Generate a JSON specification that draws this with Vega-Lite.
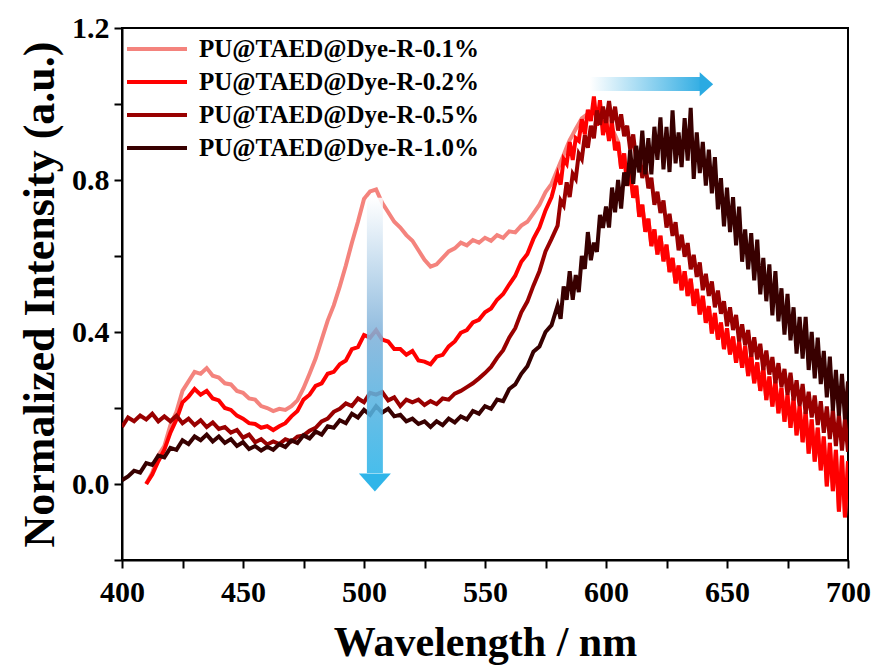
{
  "$schema": "https://vega.github.io/schema/vega-lite/v6.json",
  "autosize": "none",
  "width": 726,
  "height": 532,
  "padding": {"left": 122, "top": 28, "right": 30, "bottom": 110},
  "background": "white",
  "config": {"view": {"stroke": "black", "strokeWidth": 2}, "font": "Liberation Serif"},
  "layer": [
    {
      "data": {"values": [
        {"w":400,"a":null,"b":null,"c":0.15,"d":0.01},
        {"w":402.5,"a":null,"b":null,"c":0.175,"d":0.02},
        {"w":405,"a":null,"b":null,"c":0.165,"d":0.035},
        {"w":407.5,"a":null,"b":null,"c":0.18,"d":0.03},
        {"w":410,"a":0.0,"b":0.0,"c":0.17,"d":0.055},
        {"w":412.5,"a":0.03,"b":0.025,"c":0.185,"d":0.05},
        {"w":415,"a":0.075,"b":0.06,"c":0.165,"d":0.075},
        {"w":417.5,"a":0.1,"b":0.09,"c":0.178,"d":0.07},
        {"w":420,"a":0.155,"b":0.135,"c":0.165,"d":0.095},
        {"w":422.5,"a":0.19,"b":0.17,"c":0.18,"d":0.09},
        {"w":425,"a":0.245,"b":0.215,"c":0.16,"d":0.115},
        {"w":427.5,"a":0.27,"b":0.23,"c":0.172,"d":0.105},
        {"w":430,"a":0.295,"b":0.25,"c":0.155,"d":0.125},
        {"w":432.5,"a":0.29,"b":0.235,"c":0.168,"d":0.115},
        {"w":435,"a":0.305,"b":0.245,"c":0.15,"d":0.13},
        {"w":437.5,"a":0.285,"b":0.225,"c":0.162,"d":0.112},
        {"w":440,"a":0.28,"b":0.22,"c":0.145,"d":0.125},
        {"w":442.5,"a":0.265,"b":0.2,"c":0.15,"d":0.108},
        {"w":445,"a":0.262,"b":0.195,"c":0.135,"d":0.118},
        {"w":447.5,"a":0.245,"b":0.18,"c":0.142,"d":0.1},
        {"w":450,"a":0.24,"b":0.172,"c":0.122,"d":0.11},
        {"w":452.5,"a":0.225,"b":0.16,"c":0.13,"d":0.092},
        {"w":455,"a":0.222,"b":0.158,"c":0.11,"d":0.1},
        {"w":457.5,"a":0.205,"b":0.148,"c":0.118,"d":0.088},
        {"w":460,"a":0.2,"b":0.152,"c":0.104,"d":0.098},
        {"w":462.5,"a":0.192,"b":0.142,"c":0.112,"d":0.09},
        {"w":465,"a":0.198,"b":0.152,"c":0.105,"d":0.105},
        {"w":467.5,"a":0.195,"b":0.16,"c":0.118,"d":0.097},
        {"w":470,"a":0.205,"b":0.178,"c":0.112,"d":0.115},
        {"w":472.5,"a":0.22,"b":0.192,"c":0.125,"d":0.108},
        {"w":475,"a":0.252,"b":0.222,"c":0.128,"d":0.128},
        {"w":477.5,"a":0.29,"b":0.235,"c":0.14,"d":0.12},
        {"w":480,"a":0.33,"b":0.258,"c":0.148,"d":0.138},
        {"w":482.5,"a":0.38,"b":0.265,"c":0.165,"d":0.13},
        {"w":485,"a":0.43,"b":0.29,"c":0.172,"d":0.152},
        {"w":487.5,"a":0.47,"b":0.295,"c":0.19,"d":0.148},
        {"w":490,"a":0.52,"b":0.315,"c":0.198,"d":0.168},
        {"w":492.5,"a":0.575,"b":0.325,"c":0.212,"d":0.16},
        {"w":495,"a":0.635,"b":0.355,"c":0.205,"d":0.185},
        {"w":497.5,"a":0.69,"b":0.36,"c":0.225,"d":0.175},
        {"w":500,"a":0.75,"b":0.392,"c":0.215,"d":0.195},
        {"w":502.5,"a":0.77,"b":0.385,"c":0.24,"d":0.182},
        {"w":505,"a":0.775,"b":0.405,"c":0.235,"d":0.205},
        {"w":507.5,"a":0.74,"b":0.38,"c":0.242,"d":0.188},
        {"w":510,"a":0.715,"b":0.375,"c":0.22,"d":0.198},
        {"w":512.5,"a":0.69,"b":0.355,"c":0.228,"d":0.178},
        {"w":515,"a":0.675,"b":0.355,"c":0.205,"d":0.182},
        {"w":517.5,"a":0.655,"b":0.34,"c":0.222,"d":0.165},
        {"w":520,"a":0.64,"b":0.35,"c":0.215,"d":0.172},
        {"w":522.5,"a":0.615,"b":0.325,"c":0.222,"d":0.158},
        {"w":525,"a":0.59,"b":0.322,"c":0.208,"d":0.165},
        {"w":527.5,"a":0.572,"b":0.315,"c":0.218,"d":0.15},
        {"w":530,"a":0.578,"b":0.335,"c":0.21,"d":0.165},
        {"w":532.5,"a":0.595,"b":0.34,"c":0.225,"d":0.155},
        {"w":535,"a":0.612,"b":0.362,"c":0.222,"d":0.172},
        {"w":537.5,"a":0.62,"b":0.375,"c":0.238,"d":0.162},
        {"w":540,"a":0.635,"b":0.398,"c":0.245,"d":0.178},
        {"w":542.5,"a":0.628,"b":0.405,"c":0.255,"d":0.17},
        {"w":545,"a":0.642,"b":0.425,"c":0.265,"d":0.192},
        {"w":547.5,"a":0.635,"b":0.432,"c":0.278,"d":0.185},
        {"w":550,"a":0.648,"b":0.452,"c":0.292,"d":0.205},
        {"w":552.5,"a":0.64,"b":0.462,"c":0.308,"d":0.198},
        {"w":555,"a":0.655,"b":0.485,"c":0.332,"d":0.222},
        {"w":557.5,"a":0.648,"b":0.5,"c":0.352,"d":0.218},
        {"w":560,"a":0.665,"b":0.525,"c":0.385,"d":0.25},
        {"w":562.5,"a":0.662,"b":0.548,"c":0.41,"d":0.262},
        {"w":565,"a":0.68,"b":0.585,"c":0.452,"d":0.29},
        {"w":567.5,"a":0.69,"b":0.605,"c":0.48,"d":0.31},
        {"w":570,"a":0.712,"b":0.645,"c":0.522,"d":0.348},
        {"w":572.5,"a":0.735,"b":0.675,"c":0.56,"d":0.362},
        {"w":575,"a":0.768,"b":0.72,"c":0.612,"d":0.4},
        {"w":577.5,"a":0.79,"b":0.755,"c":0.645,"d":0.418},
        {"w":580,"a":0.828,"b":0.815,"c":0.68,"d":0.47},
        {"w":581.25,"a":0.847,"b":0.788,"c":0.746,"d":0.435},
        {"w":582.5,"a":0.866,"b":0.855,"c":0.733,"d":0.52},
        {"w":583.75,"a":0.886,"b":0.843,"c":0.794,"d":0.485},
        {"w":585,"a":0.905,"b":0.9,"c":0.755,"d":0.56},
        {"w":586.25,"a":0.919,"b":0.853,"c":0.816,"d":0.485},
        {"w":587.5,"a":0.934,"b":0.91,"c":0.803,"d":0.55},
        {"w":588.75,"a":0.948,"b":0.903,"c":0.869,"d":0.505},
        {"w":590,"a":0.962,"b":0.96,"c":0.855,"d":0.6},
        {"w":591.25,"a":0.968,"b":0.92,"c":0.918,"d":0.566},
        {"w":592.5,"a":0.974,"b":0.985,"c":0.885,"d":0.663},
        {"w":593.75,"a":0.979,"b":0.955,"c":0.943,"d":0.589},
        {"w":595,"a":0.985,"b":1.02,"c":0.91,"d":0.635},
        {"w":596.25,"a":0.98,"b":0.943,"c":0.983,"d":0.611},
        {"w":597.5,"a":0.975,"b":1.01,"c":0.945,"d":0.708},
        {"w":598.75,"a":0.97,"b":0.918,"c":0.993,"d":0.674},
        {"w":600,"a":0.965,"b":0.96,"c":0.95,"d":0.73},
        {"w":601.25,"a":0.95,"b":0.903,"c":1.008,"d":0.675},
        {"w":602.5,"a":0.935,"b":0.95,"c":0.95,"d":0.78},
        {"w":603.75,"a":0.918,"b":0.878,"c":0.993,"d":0.715},
        {"w":605,"a":0.9,"b":0.9,"c":0.93,"d":0.8},
        {"w":606.25,"a":0.83,"b":0.83,"c":0.973,"d":0.725},
        {"w":607.5,"a":0.87,"b":0.87,"c":0.915,"d":0.82},
        {"w":608.75,"a":0.785,"b":0.785,"c":0.943,"d":0.785},
        {"w":610,"a":0.82,"b":0.82,"c":0.88,"d":0.88},
        {"w":611.25,"a":0.753,"b":0.753,"c":0.92,"d":0.79},
        {"w":612.5,"a":0.785,"b":0.785,"c":0.85,"d":0.89},
        {"w":613.75,"a":0.703,"b":0.703,"c":0.875,"d":0.82},
        {"w":615,"a":0.735,"b":0.735,"c":0.805,"d":0.93},
        {"w":616.25,"a":0.664,"b":0.664,"c":0.844,"d":0.815},
        {"w":617.5,"a":0.698,"b":0.698,"c":0.778,"d":0.91},
        {"w":618.75,"a":0.626,"b":0.626,"c":0.806,"d":0.815},
        {"w":620,"a":0.67,"b":0.67,"c":0.735,"d":0.94},
        {"w":621.25,"a":0.604,"b":0.604,"c":0.769,"d":0.853},
        {"w":622.5,"a":0.653,"b":0.653,"c":0.713,"d":0.965},
        {"w":623.75,"a":0.586,"b":0.586,"c":0.746,"d":0.828},
        {"w":625,"a":0.63,"b":0.63,"c":0.675,"d":0.94},
        {"w":626.25,"a":0.558,"b":0.558,"c":0.711,"d":0.821},
        {"w":627.5,"a":0.595,"b":0.595,"c":0.653,"d":0.983},
        {"w":628.75,"a":0.528,"b":0.528,"c":0.689,"d":0.844},
        {"w":630,"a":0.575,"b":0.575,"c":0.615,"d":0.925},
        {"w":631.25,"a":0.51,"b":0.51,"c":0.656,"d":0.834},
        {"w":632.5,"a":0.56,"b":0.56,"c":0.598,"d":0.963},
        {"w":633.75,"a":0.495,"b":0.495,"c":0.634,"d":0.851},
        {"w":635,"a":0.54,"b":0.54,"c":0.565,"d":0.99},
        {"w":636.25,"a":0.469,"b":0.469,"c":0.603,"d":0.803},
        {"w":637.5,"a":0.513,"b":0.513,"c":0.545,"d":0.925},
        {"w":638.75,"a":0.446,"b":0.446,"c":0.583,"d":0.818},
        {"w":640,"a":0.495,"b":0.495,"c":0.51,"d":0.9},
        {"w":641.25,"a":0.424,"b":0.424,"c":0.553,"d":0.785},
        {"w":642.5,"a":0.468,"b":0.468,"c":0.495,"d":0.88},
        {"w":643.75,"a":0.396,"b":0.396,"c":0.533,"d":0.765},
        {"w":645,"a":0.45,"b":0.45,"c":0.465,"d":0.86},
        {"w":646.25,"a":0.38,"b":0.38,"c":0.509,"d":0.723},
        {"w":647.5,"a":0.425,"b":0.425,"c":0.448,"d":0.805},
        {"w":648.75,"a":0.355,"b":0.355,"c":0.481,"d":0.678},
        {"w":650,"a":0.41,"b":0.41,"c":0.415,"d":0.78},
        {"w":651.25,"a":0.341,"b":0.341,"c":0.465,"d":0.663},
        {"w":652.5,"a":0.388,"b":0.388,"c":0.405,"d":0.755},
        {"w":653.75,"a":0.319,"b":0.319,"c":0.445,"d":0.628},
        {"w":655,"a":0.375,"b":0.375,"c":0.375,"d":0.73},
        {"w":656.25,"a":0.306,"b":0.306,"c":0.42,"d":0.585},
        {"w":657.5,"a":0.363,"b":0.363,"c":0.365,"d":0.67},
        {"w":658.75,"a":0.284,"b":0.284,"c":0.405,"d":0.565},
        {"w":660,"a":0.34,"b":0.34,"c":0.335,"d":0.66},
        {"w":661.25,"a":0.265,"b":0.265,"c":0.386,"d":0.536},
        {"w":662.5,"a":0.32,"b":0.32,"c":0.328,"d":0.643},
        {"w":663.75,"a":0.245,"b":0.245,"c":0.369,"d":0.499},
        {"w":665,"a":0.305,"b":0.305,"c":0.3,"d":0.595},
        {"w":666.25,"a":0.221,"b":0.221,"c":0.351,"d":0.481},
        {"w":667.5,"a":0.283,"b":0.283,"c":0.288,"d":0.578},
        {"w":668.75,"a":0.204,"b":0.204,"c":0.334,"d":0.444},
        {"w":670,"a":0.27,"b":0.27,"c":0.265,"d":0.56},
        {"w":671.25,"a":0.186,"b":0.186,"c":0.318,"d":0.428},
        {"w":672.5,"a":0.253,"b":0.253,"c":0.255,"d":0.515},
        {"w":673.75,"a":0.164,"b":0.164,"c":0.303,"d":0.393},
        {"w":675,"a":0.235,"b":0.235,"c":0.235,"d":0.5},
        {"w":676.25,"a":0.148,"b":0.148,"c":0.293,"d":0.378},
        {"w":677.5,"a":0.225,"b":0.225,"c":0.22,"d":0.465},
        {"w":678.75,"a":0.128,"b":0.128,"c":0.273,"d":0.343},
        {"w":680,"a":0.205,"b":0.205,"c":0.205,"d":0.44},
        {"w":681.25,"a":0.11,"b":0.11,"c":0.263,"d":0.33},
        {"w":682.5,"a":0.19,"b":0.19,"c":0.185,"d":0.44},
        {"w":683.75,"a":0.08,"b":0.08,"c":0.243,"d":0.3},
        {"w":685,"a":0.17,"b":0.17,"c":0.175,"d":0.4},
        {"w":686.25,"a":0.059,"b":0.059,"c":0.233,"d":0.278},
        {"w":687.5,"a":0.148,"b":0.148,"c":0.155,"d":0.385},
        {"w":688.75,"a":0.036,"b":0.036,"c":0.218,"d":0.263},
        {"w":690,"a":0.125,"b":0.125,"c":0.135,"d":0.35},
        {"w":691.25,"a":-0.006,"b":-0.006,"c":0.204,"d":0.228},
        {"w":692.5,"a":0.108,"b":0.108,"c":0.118,"d":0.335},
        {"w":693.75,"a":-0.019,"b":-0.019,"c":0.196,"d":0.193},
        {"w":695,"a":0.09,"b":0.09,"c":0.1,"d":0.3},
        {"w":696.25,"a":-0.073,"b":-0.073,"c":0.184,"d":0.18},
        {"w":697.5,"a":0.075,"b":0.075,"c":0.088,"d":0.29},
        {"w":698.75,"a":-0.088,"b":-0.088,"c":0.171,"d":0.17},
        {"w":700,"a":0.06,"b":0.06,"c":0.085,"d":0.27}
      ]},
      "transform": [{"fold": ["a", "b", "c", "d"], "as": ["s", "v"]}],
      "mark": {"type": "line", "strokeWidth": 4, "clip": true},
      "encoding": {
        "x": {
          "field": "w", "type": "quantitative",
          "scale": {"domain": [400, 700], "nice": false, "zero": false},
          "axis": {
            "values": [400,425,450,475,500,525,550,575,600,625,650,675,700],
            "labelExpr": "datum.value % 50 == 0 ? datum.label : ''",
            "format": "d",
            "title": "Wavelength / nm",
            "grid": false,
            "domainColor": "black", "domainWidth": 2,
            "tickColor": "black", "tickWidth": 2, "tickSize": 8,
            "labelFont": "Liberation Serif", "labelFontWeight": "bold", "labelFontSize": 30,
            "labelColor": "black", "labelPadding": 9, "labelOverlap": false, "labelFlush": false,
            "titleFont": "Liberation Serif", "titleFontWeight": "bold", "titleFontSize": 42,
            "titleColor": "black", "titlePadding": 15
          }
        },
        "y": {
          "field": "v", "type": "quantitative",
          "scale": {"domain": [-0.2, 1.2], "nice": false, "zero": false},
          "axis": {
            "values": [-0.2, 0, 0.2, 0.4, 0.6, 0.8, 1.0, 1.2],
            "format": ".1f",
            "labelExpr": "indexof(['0.0','0.4','0.8','1.2'], datum.label) >= 0 ? datum.label : ''",
            "title": "Normalized Intensity (a.u.)",
            "grid": false,
            "domainColor": "black", "domainWidth": 2,
            "tickColor": "black", "tickWidth": 2, "tickSize": 8,
            "labelFont": "Liberation Serif", "labelFontWeight": "bold", "labelFontSize": 30,
            "labelColor": "black", "labelPadding": 5, "labelOverlap": false, "labelFlush": false,
            "titleFont": "Liberation Serif", "titleFontWeight": "bold", "titleFontSize": 44,
            "titleColor": "black", "titlePadding": 9
          }
        },
        "color": {
          "field": "s", "type": "nominal",
          "scale": {"domain": ["a", "b", "c", "d"], "range": ["#f4837d", "#ff0000", "#990000", "#380000"]},
          "legend": {
            "orient": "none", "legendX": 18, "legendY": 4,
            "title": null,
            "symbolType": "M-2,0L2,0", "symbolSize": 900, "symbolStrokeWidth": 4,
            "labelFont": "Liberation Serif", "labelFontWeight": "bold", "labelFontSize": 25,
            "labelColor": "black", "labelOffset": 25, "labelLimit": 500,
            "rowPadding": 3, "padding": 0,
            "labelExpr": "datum.label == 'a' ? 'PU@TAED@Dye-R-0.1%' : datum.label == 'b' ? 'PU@TAED@Dye-R-0.2%' : datum.label == 'c' ? 'PU@TAED@Dye-R-0.5%' : 'PU@TAED@Dye-R-1.0%'"
          }
        }
      }
    },
    {
      "data": {"values": [{"x1": 501.2, "x2": 507.8, "y1": 0.753, "y2": 0.029}]},
      "mark": {
        "type": "rect", "opacity": 0.88,
        "fill": {"gradient": "linear", "x1": 0, "y1": 0, "x2": 0, "y2": 1,
          "stops": [{"offset": 0, "color": "#ffffff"}, {"offset": 0.5, "color": "#80b2da"}, {"offset": 1, "color": "#2fb5e9"}]}
      },
      "encoding": {
        "x": {"field": "x1", "type": "quantitative", "title": "Wavelength / nm"},
        "x2": {"field": "x2"},
        "y": {"field": "y1", "type": "quantitative", "title": "Normalized Intensity (a.u.)"},
        "y2": {"field": "y2"}
      }
    },
    {
      "data": {"values": [{"x1": 593.4, "x2": 639, "y1": 1.034, "y2": 1.071}]},
      "mark": {
        "type": "rect", "opacity": 0.95,
        "fill": {"gradient": "linear", "x1": 0, "y1": 0, "x2": 1, "y2": 0,
          "stops": [{"offset": 0, "color": "#ffffff"}, {"offset": 1, "color": "#2aaae2"}]}
      },
      "encoding": {
        "x": {"field": "x1", "type": "quantitative", "title": "Wavelength / nm"},
        "x2": {"field": "x2"},
        "y": {"field": "y1", "type": "quantitative", "title": "Normalized Intensity (a.u.)"},
        "y2": {"field": "y2"}
      }
    },
    {
      "data": {"values": [{"x": 504.5, "y": 0.004}]},
      "mark": {"type": "point", "shape": "M-1,-0.56L1,-0.56L0,0.56Z", "size": 1024, "filled": true, "fill": "#2fb5e9", "opacity": 1, "strokeWidth": 0},
      "encoding": {
        "x": {"field": "x", "type": "quantitative", "title": "Wavelength / nm"},
        "y": {"field": "y", "type": "quantitative", "title": "Normalized Intensity (a.u.)"}
      }
    },
    {
      "data": {"values": [{"x": 641.5, "y": 1.052}]},
      "mark": {"type": "point", "shape": "M-0.56,-1L0.56,0L-0.56,1Z", "size": 576, "filled": true, "fill": "#2aaae2", "opacity": 1, "strokeWidth": 0},
      "encoding": {
        "x": {"field": "x", "type": "quantitative", "title": "Wavelength / nm"},
        "y": {"field": "y", "type": "quantitative", "title": "Normalized Intensity (a.u.)"}
      }
    }
  ]
}
